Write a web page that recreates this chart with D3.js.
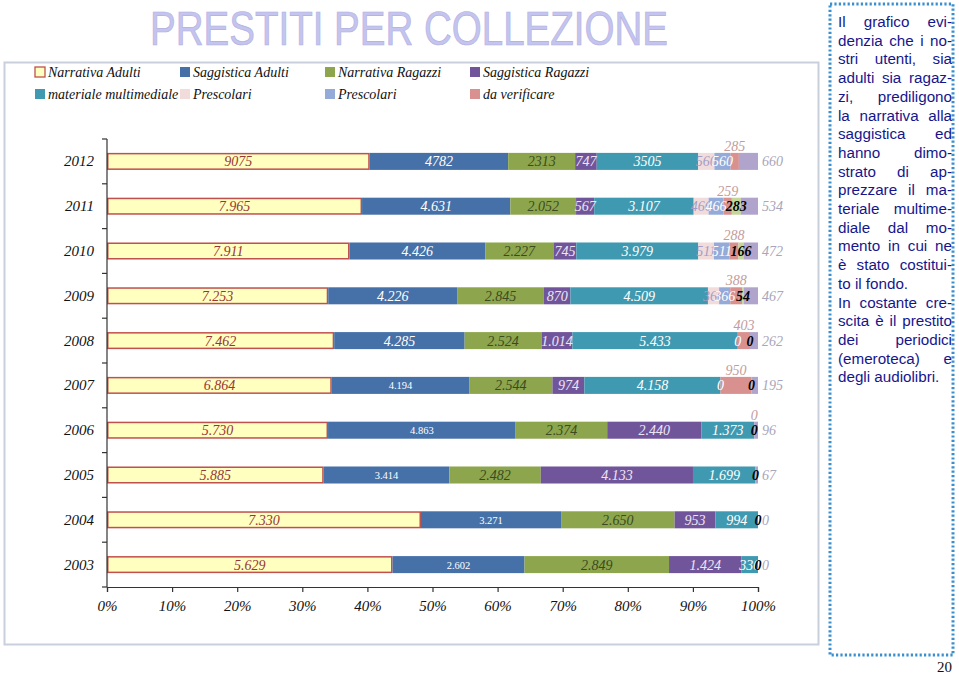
<!DOCTYPE html>
<html>
<head>
<meta charset="utf-8">
<script src="https://cdn.jsdelivr.net/npm/d3@7"></script>
<style>
  html, body { margin: 0; padding: 0; background: #fff; }
  svg { display: block; }
</style>
</head>
<body>
<svg id="chart" width="959" height="674"></svg>
<script>
// ---------------- DATA ----------------
const years = ["2012","2011","2010","2009","2008","2007","2006","2005","2004","2003"];
const narrativaAdulti   = [9075, 7965, 7911, 7253, 7462, 6864, 5730, 5885, 7330, 5629];
const saggisticaAdulti  = [4782, 4631, 4426, 4226, 4285, 4194, 4863, 3414, 3271, 2602];
const narrativaRagazzi  = [2313, 2052, 2227, 2845, 2524, 2544, 2374, 2482, 2650, 2849];
const saggisticaRagazzi = [747, 567, 745, 870, 1014, 974, 2440, 4133, 953, 1424];
const multimediale      = [3505, 3107, 3979, 4509, 5433, 4158, 1373, 1699, 994, 330];
const prescolariA       = [560, 466, 511, 366, 0, 0, null, null, null, null];
const prescolariB       = [560, 466, 511, 366, 0, 0, null, null, null, null];
const daVerificare      = [285, 259, 288, 388, 403, 950, 0, null, null, null];
const audiolibri        = [null, 283, 166, 54, 0, 0, 0, 0, 0, 0];
const periodici         = [660, 534, 472, 467, 262, 195, 96, 67, 0, 0];
const xTicks = [0, 0.1, 0.2, 0.3, 0.4, 0.5, 0.6, 0.7, 0.8, 0.9, 1.0];
const legendLabels = ["Narrativa Adulti", "Saggistica Adulti", "Narrativa Ragazzi", "Saggistica Ragazzi",
                      "materiale multimediale", "Prescolari", "Prescolari", "da verificare"];
const titleText = "PRESTITI PER COLLEZIONE";
const noteParagraphs = [
  ["Il grafico evi-", "denzia che i no-", "stri utenti, sia", "adulti sia ragaz-", "zi, prediligono",
   "la narrativa alla", "saggistica ed", "hanno dimo-", "strato di ap-", "prezzare il ma-",
   "teriale multime-", "diale dal mo-", "mento in cui ne", "è stato costitui-", "to il fondo."],
  ["In costante cre-", "scita è il prestito", "dei periodici", "(emeroteca) e", "degli audiolibri."]
];
const pageNumber = "20";

// ---------------- SERIES CONFIG ----------------
const series = [
  {key: "na",  values: narrativaAdulti,   fill: "#FFFFC0", stroke: "#C0504D", label: "#953735", pos: "in"},
  {key: "sa",  values: saggisticaAdulti,  fill: "#4671A8", label: "#FFFFFF", pos: "in"},
  {key: "nr",  values: narrativaRagazzi,  fill: "#8DA64D", label: "#3C4A20", pos: "in"},
  {key: "sr",  values: saggisticaRagazzi, fill: "#71559A", label: "#EEE6F6", pos: "in"},
  {key: "mm",  values: multimediale,      fill: "#3F9AB1", label: "#FFFFFF", pos: "in"},
  {key: "pa",  values: prescolariA,       fill: "#F2DCDB", label: "#A29CC6", pos: "in"},
  {key: "pb",  values: prescolariB,       fill: "#94AAD8", label: "#FFFFFF", pos: "in"},
  {key: "dv",  values: daVerificare,      fill: "#D9918F", label: "#C29C9C", pos: "above"},
  {key: "au",  values: audiolibri,        fill: "#C3D69B", label: "#000000", pos: "in", bold: true},
  {key: "pe",  values: periodici,         fill: "#B1A4CC", label: "#A9A5BA", pos: "right"}
];
const legendColors = ["#FFFFC0", "#4671A8", "#8DA64D", "#71559A", "#3F9AB1", "#F2DCDB", "#94AAD8", "#D9918F"];
const smallLabelYears = ["2007","2006","2005","2004","2003"];

const locDot = d3.formatLocale({decimal: ",", thousands: ".", grouping: [3], currency: ["", "€"]});
const fmtDot = locDot.format(",d");
const fmtPlain = d3.format("d");
const fmt = (v, year) => year === "2012" ? fmtPlain(v) : fmtDot(v);

// ---------------- DRAW ----------------
const svg = d3.select("#chart");
const serif = "'Liberation Serif', 'Times New Roman', serif";

// Title
svg.append("text")
  .attr("x", 150).attr("y", 45)
  .attr("textLength", 518).attr("lengthAdjust", "spacingAndGlyphs")
  .attr("font-family", "'Liberation Sans Narrow', 'Arial Narrow', 'Liberation Sans', Arial, sans-serif")
  .attr("font-size", 49)
  .attr("fill", "#C4C4EE")
  .attr("stroke", "#B0B0E2").attr("stroke-width", 0.7)
  .text(titleText);

// Chart frame
svg.append("rect")
  .attr("x", 4.5).attr("y", 62.5).attr("width", 814).attr("height", 582)
  .attr("fill", "none").attr("stroke", "#C9D0DC").attr("stroke-width", 2);

// Legend
const legend = svg.append("g");
legendLabels.forEach((lab, i) => {
  const col = i % 4, row = Math.floor(i / 4);
  const lx = 35 + col * 145, ly = 72 + row * 22;
  legend.append("rect")
    .attr("x", lx).attr("y", ly - 5).attr("width", 10).attr("height", 10)
    .attr("fill", legendColors[i])
    .attr("stroke", i === 0 ? "#C0504D" : "none").attr("stroke-width", 1.3);
  legend.append("text")
    .attr("x", lx + 13).attr("y", ly + 5)
    .attr("font-family", serif).attr("font-style", "italic").attr("font-size", 14)
    .attr("fill", "#111").text(lab);
});

// Scales
const x = d3.scaleLinear().domain([0, 1]).range([107, 758]);
const y = d3.scaleBand().domain(years).range([139, 587]).paddingInner(0.62).paddingOuter(0.31);

// Stack (normalized)
const rows = years.map((yr, i) => {
  const total = d3.sum(series, s => s.values[i] || 0);
  let acc = 0;
  return series.map(s => {
    const v = s.values[i];
    const seg = {year: yr, s, v, x0: acc / total, x1: (acc + (v || 0)) / total};
    acc += (v || 0);
    return seg;
  });
});

const barsG = svg.append("g");
rows.forEach(segs => {
  segs.forEach(seg => {
    if (seg.v == null || seg.v === 0) return;
    const r = barsG.append("rect")
      .attr("x", x(seg.x0)).attr("y", y(seg.year))
      .attr("width", x(seg.x1) - x(seg.x0)).attr("height", y.bandwidth())
      .attr("fill", seg.s.fill);
    if (seg.s.stroke) {
      r.attr("x", x(seg.x0) + 0.75).attr("y", y(seg.year) + 0.75)
       .attr("width", x(seg.x1) - x(seg.x0) - 1.5).attr("height", y.bandwidth() - 1.5)
       .attr("stroke", seg.s.stroke).attr("stroke-width", 1.5);
    }
  });
});

// Axes
const axisColor = "#333";
const axG = svg.append("g");
axG.append("line").attr("x1", 107).attr("x2", 107).attr("y1", 139).attr("y2", 587)
  .attr("stroke", axisColor).attr("stroke-width", 1.2);
const step = y.step();
d3.range(years.length + 1).forEach(k => {
  const yy = 139 + k * step;
  axG.append("line").attr("x1", 102).attr("x2", 107).attr("y1", yy).attr("y2", yy)
    .attr("stroke", axisColor).attr("stroke-width", 1.2);
});
const xAxis = d3.axisBottom(x).tickValues(xTicks).tickSize(5).tickFormat(d3.format(".0%"));
const xg = svg.append("g").attr("transform", "translate(0,587)").call(xAxis);
xg.select(".domain").attr("stroke", axisColor).attr("stroke-width", 1.2);
xg.selectAll(".tick line").attr("stroke", axisColor).attr("stroke-width", 1.2);
xg.selectAll(".tick text")
  .attr("y", 13).attr("dy", "0.71em")
  .attr("font-family", serif).attr("font-style", "italic").attr("font-size", 15).attr("fill", "#111");

// Year labels
svg.append("g").selectAll("text").data(years).join("text")
  .attr("x", 94).attr("y", d => y(d) + y.bandwidth() / 2 + 5)
  .attr("text-anchor", "end")
  .attr("font-family", serif).attr("font-style", "italic").attr("font-size", 15).attr("fill", "#111")
  .text(d => d);

// Data labels
const labG = svg.append("g");
rows.forEach(segs => {
  segs.forEach(seg => {
    if (seg.v == null) return;
    const cx = (x(seg.x0) + x(seg.x1)) / 2;
    const cy = y(seg.year) + y.bandwidth() / 2;
    let tx = cx, ty = cy + 5, anchor = "middle";
    if (seg.s.pos === "above") { ty = y(seg.year) - 2; }
    if (seg.s.pos === "right") { tx = 762; anchor = "start"; }
    const small = seg.s.key === "sa" && smallLabelYears.includes(seg.year);
    labG.append("text")
      .attr("x", tx).attr("y", small ? cy + 4 : ty)
      .attr("text-anchor", anchor)
      .attr("font-family", serif)
      .attr("font-style", small ? "normal" : "italic")
      .attr("font-weight", seg.s.bold ? "bold" : "normal")
      .attr("font-size", small ? 10.5 : 14)
      .attr("fill", seg.s.label)
      .text(fmt(seg.v, seg.year));
  });
});

// Note box
svg.append("rect")
  .attr("x", 830).attr("y", 4).attr("width", 123).attr("height", 651)
  .attr("fill", "none").attr("stroke", "#3A8FCF").attr("stroke-width", 3)
  .attr("stroke-dasharray", "2.2,2.2");

const noteG = svg.append("g")
  .attr("font-family", "'Liberation Sans', Arial, sans-serif")
  .attr("font-size", 15.2).attr("fill", "#16168C");
const left = 838, right = 952, lineH = 18.7;
let lineIdx = 0;
noteParagraphs.forEach(par => {
  par.forEach((line, li) => {
    const by = 27 + lineIdx * lineH;
    const isLast = li === par.length - 1;
    const words = line.split(" ");
    if (isLast || words.length < 2) {
      noteG.append("text").attr("x", left).attr("y", by).text(line);
    } else {
      const nodes = words.map(w => noteG.append("text").attr("y", by).text(w));
      const widths = nodes.map(n => n.node().getComputedTextLength());
      const gap = (right - left - d3.sum(widths)) / (words.length - 1);
      let cur = left;
      nodes.forEach((n, k) => { n.attr("x", cur); cur += widths[k] + gap; });
    }
    lineIdx++;
  });
});

// Page number
svg.append("text").attr("x", 952).attr("y", 672).attr("text-anchor", "end")
  .attr("font-family", serif).attr("font-size", 15).attr("fill", "#111").text(pageNumber);
</script>
</body>
</html>
